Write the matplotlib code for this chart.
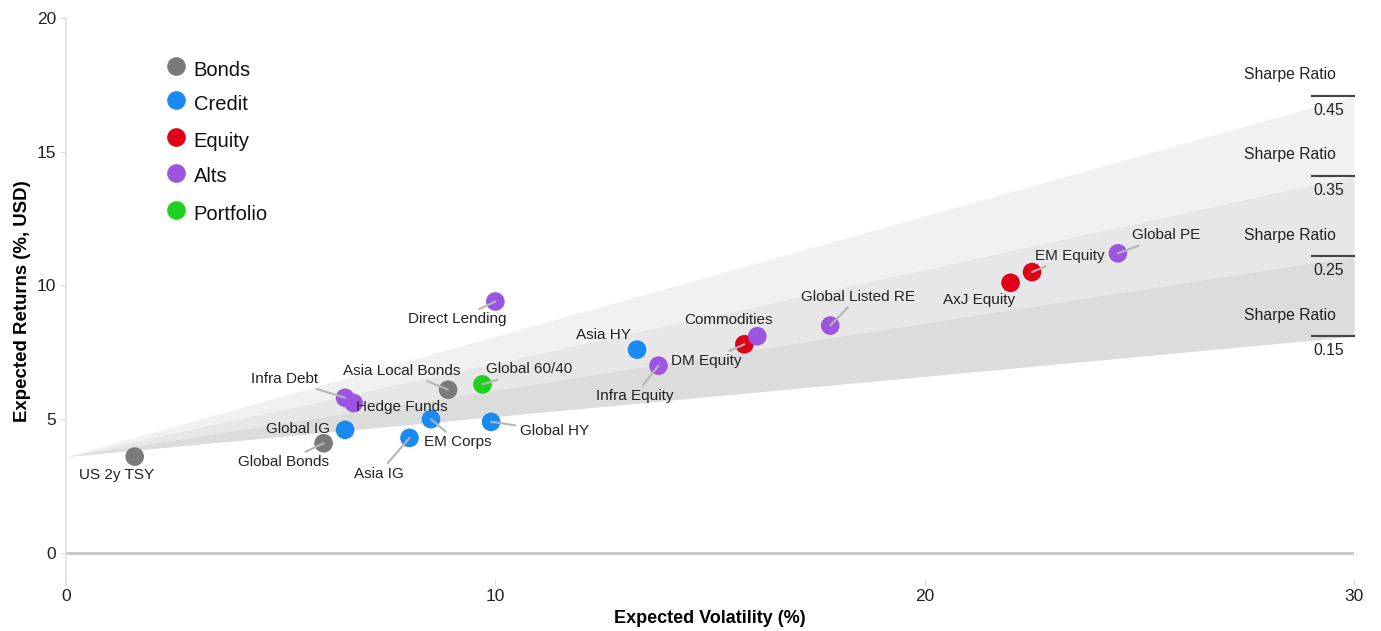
import matplotlib.pyplot as plt
import numpy as np

plt.rcParams['font.family'] = ['Liberation Sans', 'DejaVu Sans']

# Asset classes: expected volatility vs expected return
assets = ['US 2y TSY', 'Global Bonds', 'Global IG', 'Infra Debt', 'Hedge Funds',
          'Asia Local Bonds', 'Global 60/40', 'Asia IG', 'EM Corps', 'Global HY',
          'Direct Lending', 'Asia HY', 'Infra Equity', 'DM Equity', 'Commodities',
          'Global Listed RE', 'AxJ Equity', 'EM Equity', 'Global PE']
groups = ['Bonds', 'Bonds', 'Credit', 'Alts', 'Alts',
          'Bonds', 'Portfolio', 'Credit', 'Credit', 'Credit',
          'Alts', 'Credit', 'Alts', 'Equity', 'Alts',
          'Alts', 'Equity', 'Equity', 'Alts']
volatility = [1.6, 6.0, 6.5, 6.5, 6.7,
              8.9, 9.7, 8.0, 8.5, 9.9,
              10.0, 13.3, 13.8, 15.8, 16.1,
              17.8, 22.0, 22.5, 24.5]
returns = [3.6, 4.1, 4.6, 5.8, 5.6,
           6.1, 6.3, 4.3, 5.0, 4.9,
           9.4, 7.6, 7.0, 7.8, 8.1,
           8.5, 10.1, 10.5, 11.2]

risk_free = 3.6
sharpe_ratios = [0.45, 0.35, 0.25, 0.15]

group_order = ['Bonds', 'Credit', 'Equity', 'Alts', 'Portfolio']
group_colors = {'Bonds': '#7a7a7a', 'Credit': '#1a8af0', 'Equity': '#e00018',
                'Alts': '#9b55e0', 'Portfolio': '#1fd11f'}

# label offsets in pixels (dx, dy) and whether a leader line is drawn
label_pos = {
    'US 2y TSY': (-18, -18, False), 'Global Bonds': (-40, -19, True),
    'Global IG': (-47, 1, False), 'Infra Debt': (-61, 19, True),
    'Hedge Funds': (48, -4, False), 'Asia Local Bonds': (-46, 19, True),
    'Global 60/40': (47, 15, True), 'Asia IG': (-31, -36, True),
    'EM Corps': (27, -23, True), 'Global HY': (63, -9, True),
    'Direct Lending': (-38, -18, True), 'Asia HY': (-34, 15, False),
    'Infra Equity': (-24, -30, True), 'DM Equity': (-38, -17, True),
    'Commodities': (-29, 16, False), 'Global Listed RE': (28, 29, True),
    'AxJ Equity': (-32, -17, False), 'EM Equity': (38, 16, True),
    'Global PE': (48, 18, True),
}

fig = plt.figure(figsize=(13.81, 6.31), dpi=100)
ax = fig.add_axes([0.0478, 0.0729, 0.9327, 0.8986])
ax.set_xlim(0, 30)
ax.set_ylim(-1.2, 20)

# Sharpe ratio wedges
xs = np.array([0, 30])
fills = ['#f1f1f1', '#e7e7e7', '#dcdcdc']
for i, c in enumerate(fills):
    top = risk_free + sharpe_ratios[i] * xs
    bot = risk_free + sharpe_ratios[i + 1] * xs
    ax.fill_between(xs, bot, top, color=c, lw=0, zorder=1)

for s in sharpe_ratios:
    yl = risk_free + s * 30
    ax.plot([29.02, 30], [yl, yl], color='#444444', lw=1.5, zorder=3, clip_on=False)
    ax.text(28.5, yl + 0.78, 'Sharpe Ratio', ha='center', va='center', fontsize=11.3, color='#222222')
    ax.text(29.4, yl - 0.55, f'{s:.2f}', ha='center', va='center', fontsize=11.3, color='#222222')

ax.axhline(0, color='#c8c8c8', lw=2, zorder=2)

colors = [group_colors[g] for g in groups]
ax.scatter(volatility, returns, s=180, c=colors, lw=0, zorder=4)

for name, x, y in zip(assets, volatility, returns):
    dx, dy, leader = label_pos[name]
    props = None
    if leader:
        props = dict(arrowstyle='-', color='#b5b5b5', lw=1.5, shrinkA=1, shrinkB=0)
    ax.annotate(name, (x, y), xytext=(dx, dy), textcoords='offset pixels',
                ha='center', va='center', fontsize=11, color='#222222',
                arrowprops=props, zorder=5)

# legend drawn as dots and text in axes fraction
legend_y = [0.915, 0.855, 0.790, 0.727, 0.661]
for g, ly in zip(group_order, legend_y):
    ax.scatter([0.0853], [ly], s=180, c=group_colors[g], lw=0, transform=ax.transAxes,
               zorder=6, clip_on=False)
    ax.text(0.099, ly - 0.007, g, transform=ax.transAxes, va='center', ha='left',
            fontsize=14.5, color='#111111')

for side in ['top', 'right', 'bottom']:
    ax.spines[side].set_visible(False)
ax.spines['left'].set_color('#e0e0e0')
ax.spines['left'].set_linewidth(1.2)

ax.set_xticks([0, 10, 20, 30])
ax.set_yticks([0, 5, 10, 15, 20])
ax.tick_params(axis='both', colors='#dddddd', labelcolor='#222222', labelsize=12.5, length=4)
ax.tick_params(axis='x', direction='in', pad=3)
ax.tick_params(axis='y', pad=3)

ax.set_xlabel('Expected Volatility (%)', fontsize=13, fontweight='bold', labelpad=4)
ax.set_ylabel('Expected Returns (%, USD)', fontsize=13.4, fontweight='bold', labelpad=4)

fig.savefig('out.png', dpi=100)
